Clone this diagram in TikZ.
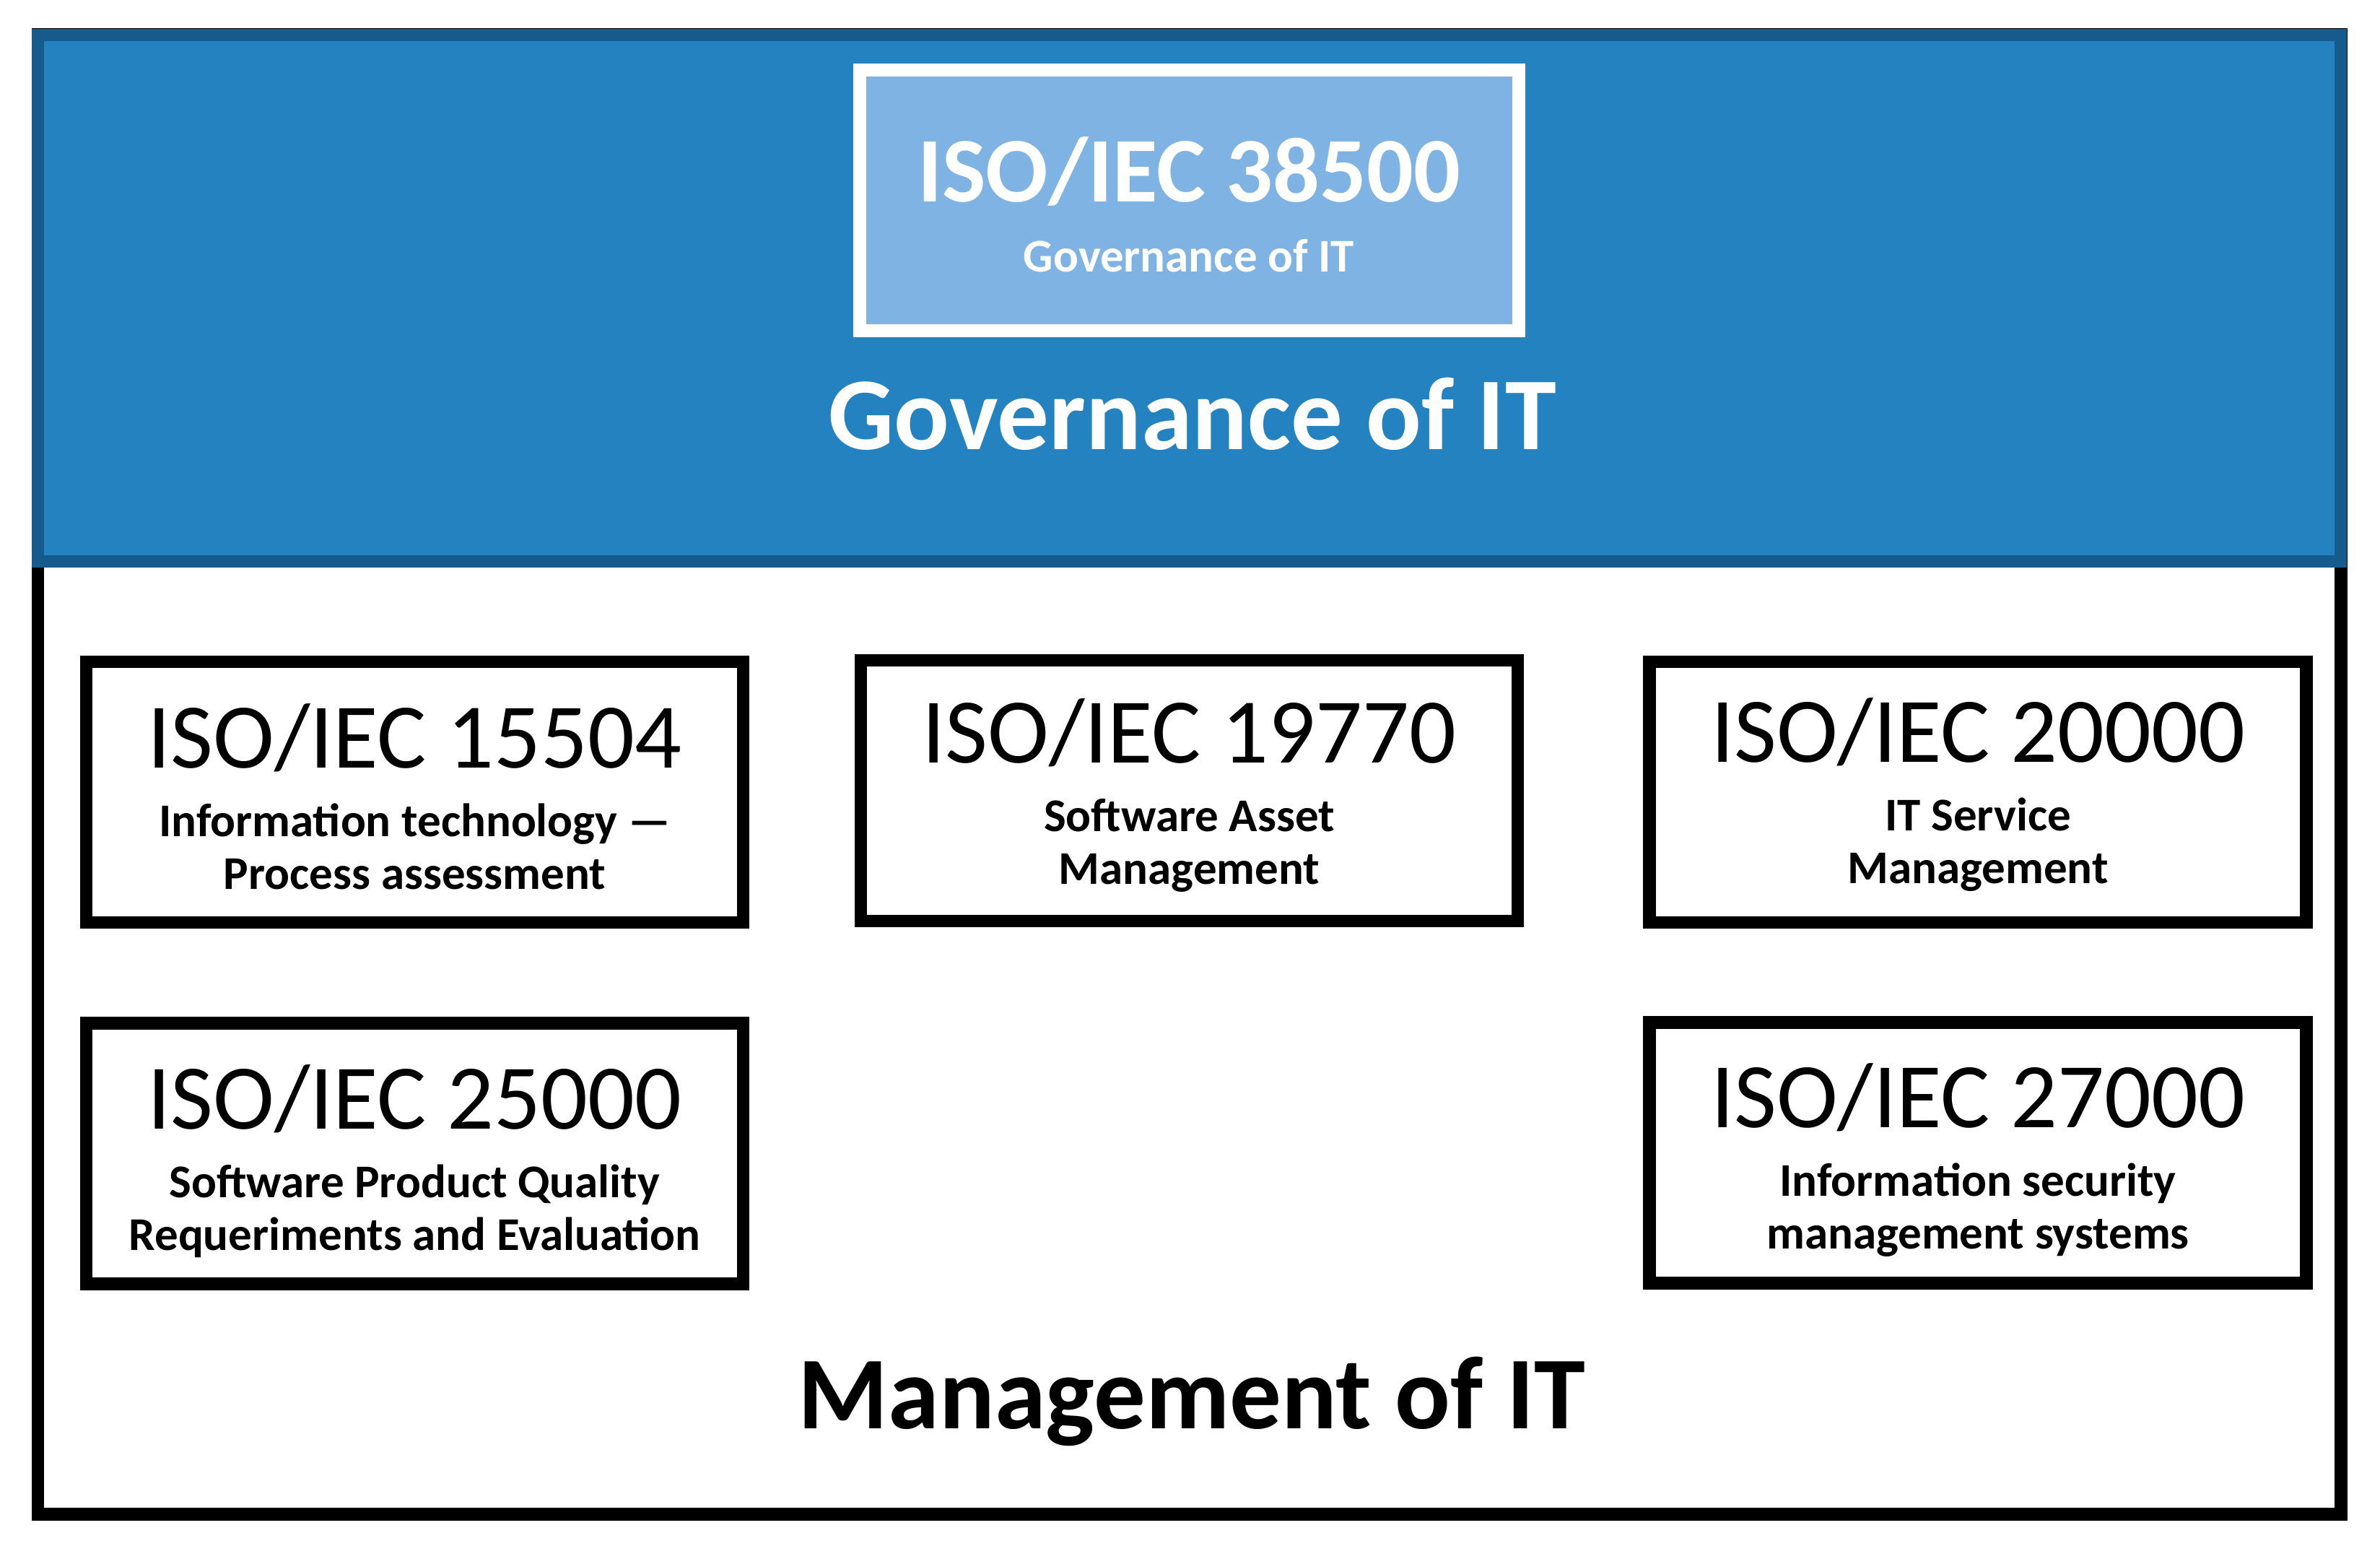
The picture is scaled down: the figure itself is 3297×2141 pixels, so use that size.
\documentclass[tikz,border=0pt]{standalone}
\usepackage{fontspec}
\setmainfont{Carlito}
\usetikzlibrary{positioning}
\definecolor{govborder}{RGB}{21,92,140}
\definecolor{govfill}{RGB}{37,130,192}
\definecolor{stdfill}{RGB}{127,179,227}

\begin{document}
\begin{tikzpicture}[x=0.1pt,y=-0.1pt,
  frame/.style={draw=black,line width=1.8pt},
  govband/.style={fill=govfill,draw=govborder,line width=1.75pt},
  stdbox/.style={draw=black,fill=white,line width=1.75pt,
    minimum width=91pt,minimum height=36.1pt,inner sep=0pt},
  govbox/.style={draw=white,fill=stdfill,line width=1.8pt,
    minimum width=91.3pt,minimum height=36.1pt,inner sep=0pt},
  isotitle/.style={font=\fontsize{12.8}{14}\selectfont,inner sep=0pt,anchor=base},
  isosub/.style={font=\fontsize{6.5}{7.2}\selectfont\bfseries,inner sep=0pt,anchor=base},
  layer/.style={font=\fontsize{14.3}{16}\selectfont\bfseries,inner sep=0pt,anchor=base}]
\useasboundingbox (0,0) rectangle (3297,2141);
\draw[frame] (52.5,48.5) rectangle (3242.5,2097.5);
\draw[govband] (52.5,48.5) rectangle (3242.5,777.5);
% governance
\node[govbox] (iso38500) at (1647.5,277.5) {};
\node[isotitle,white,font=\fontsize{12.8}{14}\selectfont\bfseries] (t38500) at (1647,280) {ISO/IEC 38500};
\node[isosub,white] (s38500) at (1647,377) {Governance of IT};
\node[layer,white] (gov) at (1652,623) {Governance of IT};
% management
\foreach \n/\cx/\cy/\ty/\la/\lb in {
    15504/574.5/1097/1064/Information technology —/Process assessment,
    19770/1647.5/1095/1057/Software Asset/Management,
    20000/2740/1097/1056/IT Service/Management,
    25000/574.5/1597.5/1564/Software Product Quality/Requeriments and Evaluation,
    27000/2740/1596.5/1562/Information security/management systems}
{
  \node[stdbox] (iso\n) at (\cx,\cy) {};
  \node[isotitle] (t\n) at (\cx,\ty) {ISO/IEC \n};
  \node[isosub] (a\n) at (\cx,\ty+95) {\la};
  \node[isosub] (b\n) at (\cx,\ty+168) {\lb};
}
\node[layer] (mgmt) at (1651,1979) {Management of IT};
\end{tikzpicture}
\end{document}
